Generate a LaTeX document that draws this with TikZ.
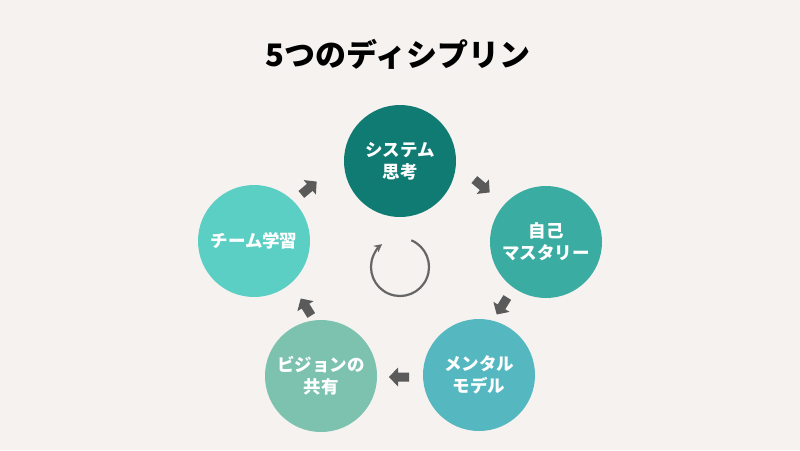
\documentclass[tikz,border=0pt]{standalone}
\usepackage{fontspec}
\setmainfont{Noto Sans CJK JP}
\usetikzlibrary{arrows.meta}
\definecolor{bgc}{HTML}{F5F2EF}
\definecolor{cA}{HTML}{0F7B73}
\definecolor{cB}{HTML}{3BACA2}
\definecolor{cC}{HTML}{55B8C0}
\definecolor{cD}{HTML}{7CC2AF}
\definecolor{cE}{HTML}{5CCFC5}
\definecolor{arr}{HTML}{5A5A5A}
\definecolor{ring}{HTML}{666666}
\tikzset{
  disc/.style={circle, minimum size=112pt, inner sep=0pt, text=white,
    font=\fontsize{17.5}{22}\selectfont\bfseries, align=center},
  barrow/.pic={\fill[arr] (-10,-4.5) -- (1,-4.5) -- (1,-9.5) -- (10,0) -- (1,9.5) -- (1,4.5) -- (-10,4.5) -- cycle;}
}
\begin{document}
\begin{tikzpicture}[x=1pt,y=-1pt]
\fill[bgc] (0,0) rectangle (800,450);
\useasboundingbox (0,0) rectangle (800,450);
\node[font=\fontsize{31}{36}\selectfont\bfseries, text=black] (title) at (398,54) {5つのディシプリン};
\node[disc, fill=cA] (sys) at (400,161) {システム\\思考};
\node[disc, fill=cB] (self) at (546,242) {自己\\マスタリー};
\node[disc, fill=cC] (mental) at (479,375) {メンタル\\モデル};
\node[disc, fill=cD] (vision) at (321,376) {ビジョンの\\共有};
\node[disc, fill=cE] (team) at (254,241) {チーム学習};
\pic[rotate=-40] at (482,186) {barrow};
\pic[rotate=-122] at (502,306) {barrow};
\pic[rotate=180] at (399,377) {barrow};
\pic[rotate=122] at (306,307) {barrow};
\pic[rotate=40] at (309,188) {barrow};
\coordinate (ctr) at (400,267);
\draw[ring, line width=2.2pt, -{Stealth[length=8pt,width=8pt]}]
  ([shift={(67:29pt)}]ctr) arc[start angle=67, end angle=-232, radius=29pt];
\end{tikzpicture}
\end{document}
